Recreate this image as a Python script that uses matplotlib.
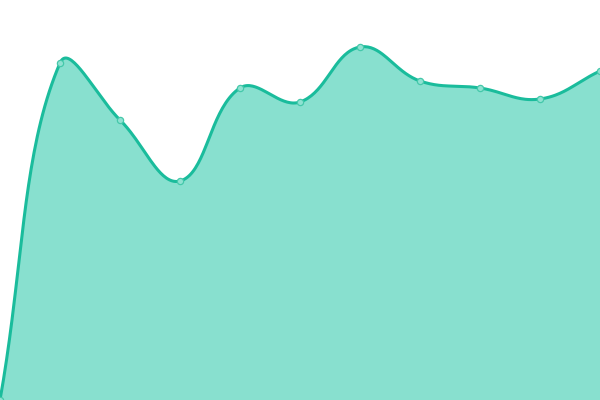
import numpy as np
import matplotlib
matplotlib.use("Agg")
import matplotlib.pyplot as plt

x_vals = [0, 60, 120, 180, 240, 300, 360, 420, 480, 540, 600]
y_vals = [0, 337, 280, 219, 312, 298, 353, 319, 312, 301, 329]

LINE = "#1abc9c"
FILL = "#88e0cf"
TENSION = 0.4


def spline_path(xs, ys, t=TENSION, n=40):
    pts = np.column_stack([xs, ys]).astype(float)
    N = len(pts)
    cps = []
    for i in range(N):
        prev = pts[i - 1] if i > 0 else pts[i]
        cur = pts[i]
        nxt = pts[i + 1] if i < N - 1 else pts[i]
        d01 = np.hypot(*(cur - prev))
        d12 = np.hypot(*(nxt - cur))
        tot = d01 + d12
        s01 = d01 / tot if tot else 0
        s12 = d12 / tot if tot else 0
        fa, fb = t * s01, t * s12
        cps.append((cur - fa * (nxt - prev), cur + fb * (nxt - prev)))
    outx, outy = [pts[0][0]], [pts[0][1]]
    tt = np.linspace(0, 1, n)[1:]
    for i in range(N - 1):
        p0 = pts[i]
        c1 = cps[i][1]
        c2 = cps[i + 1][0]
        p3 = pts[i + 1]
        b = ((1 - tt) ** 3)[:, None] * p0 + (3 * (1 - tt) ** 2 * tt)[:, None] * c1 \
            + (3 * (1 - tt) * tt ** 2)[:, None] * c2 + (tt ** 3)[:, None] * p3
        outx.extend(b[:, 0])
        outy.extend(b[:, 1])
    return np.array(outx), np.array(outy)


fig = plt.figure(figsize=(6, 4), dpi=100)
ax = fig.add_axes([0, 0, 1, 1])
sx, sy = spline_path(x_vals, y_vals)
ax.fill_between(sx, sy, 0, color=FILL, linewidth=0)
ax.plot(sx, sy, color=LINE, linewidth=2.2, solid_capstyle="round")
ax.plot(x_vals, y_vals, linestyle="none", marker="o", markersize=4.5,
        markerfacecolor="#8fe2d2", markeredgecolor="#45c8aa", markeredgewidth=0.9)
ax.set_xlim(0, 600)
ax.set_ylim(0, 400)
ax.axis("off")
fig.savefig("out.png", dpi=100)
